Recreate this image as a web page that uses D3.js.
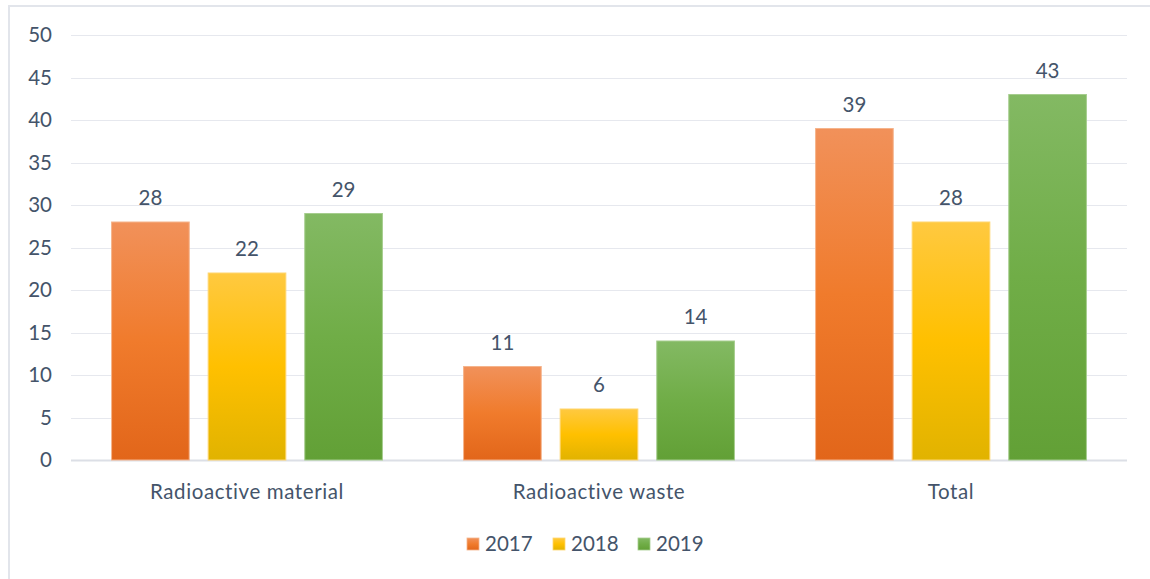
<!DOCTYPE html>
<html>
<head>
<meta charset="utf-8">
<script src="https://cdn.jsdelivr.net/npm/d3@7"></script>
<style>
  html, body { margin: 0; padding: 0; background: #fff; }
  svg text { font-family: Lato, "Open Sans", sans-serif; fill: #44546a; }
</style>
</head>
<body>
<div id="chart"></div>
<script>
// chart data
const categories = ["Radioactive material", "Radioactive waste", "Total"];
const years = ["2017", "2018", "2019"];
const values2017 = [28, 11, 39];
const values2018 = [22, 6, 28];
const values2019 = [29, 14, 43];
const yTicks = [0, 5, 10, 15, 20, 25, 30, 35, 40, 45, 50];

// gradient stops per series: top, middle, bottom
const seriesColors = [
  { top: "#f1915a", mid: "#f07b2c", bot: "#e2661a", edge: "#f5b48c" },
  { top: "#ffc940", mid: "#ffc000", bot: "#e1b300", edge: "#ffd66e" },
  { top: "#83b963", mid: "#70ad47", bot: "#62a036", edge: "#a6cd8e" }
];

const W = 1150, H = 579;
const margin = { top: 35, left: 71, right: 23, bottom: 119 };
const fontSize = 20.5;

const svg = d3.select("#chart").append("svg")
  .attr("width", W).attr("height", H);

// outer frame (only top and left visible in the capture)
svg.append("path")
  .attr("d", "M9," + H + " V6 H" + W)
  .attr("fill", "none")
  .attr("stroke", "#e2e5eb")
  .attr("stroke-width", 2);

const defs = svg.append("defs");
seriesColors.forEach((c, i) => {
  let g = defs.append("linearGradient")
    .attr("id", "grad" + i)
    .attr("x1", 0).attr("y1", 0).attr("x2", 0).attr("y2", 1);
  g.append("stop").attr("offset", "0%").attr("stop-color", c.top);
  g.append("stop").attr("offset", "50%").attr("stop-color", c.mid);
  g.append("stop").attr("offset", "100%").attr("stop-color", c.bot);
});

const x0 = d3.scaleBand()
  .domain(categories)
  .range([margin.left, W - margin.right])
  .paddingInner(0)
  .paddingOuter(0);

const x1 = d3.scaleBand()
  .domain(years)
  .range([0, x0.bandwidth()])
  .paddingInner(0.196)
  .paddingOuter(0.42);

const y = d3.scaleLinear()
  .domain([0, 50])
  .range([H - margin.bottom, margin.top]);

// gridlines
svg.append("g").selectAll("line")
  .data(yTicks).enter()
  .append("line")
    .attr("x1", margin.left).attr("x2", W - margin.right)
    .attr("y1", d => Math.round(y(d)) + 0.5).attr("y2", d => Math.round(y(d)) + 0.5)
    .attr("stroke", d => d === 0 ? "#dcdfe6" : "#e6e8ee")
    .attr("stroke-width", d => d === 0 ? 2 : 1.2);

// y labels
svg.append("g").selectAll("text")
  .data(yTicks).enter()
  .append("text")
    .attr("x", 52)
    .attr("y", d => y(d))
    .attr("dy", "0.36em")
    .attr("text-anchor", "end")
    .attr("font-size", fontSize)
    .text(d => d);

const series = [values2017, values2018, values2019];
const barData = [];
categories.forEach((cat, ci) => {
  years.forEach((yr, si) => {
    barData.push({ cat: cat, year: yr, si: si, value: series[si][ci] });
  });
});

const bars = svg.append("g").selectAll("g")
  .data(barData).enter()
  .append("g");

bars.append("rect")
  .attr("x", d => x0(d.cat) + x1(d.year))
  .attr("y", d => y(d.value))
  .attr("width", x1.bandwidth())
  .attr("height", d => y(0) - y(d.value))
  .attr("fill", d => "url(#grad" + d.si + ")")
  .attr("stroke", d => seriesColors[d.si].edge)
  .attr("stroke-width", 1);

bars.append("text")
  .attr("x", d => x0(d.cat) + x1(d.year) + x1.bandwidth() / 2)
  .attr("y", d => y(d.value) - 17)
  .attr("text-anchor", "middle")
  .attr("font-size", fontSize)
  .text(d => d.value);

// category labels
svg.append("g").selectAll("text")
  .data(categories).enter()
  .append("text")
    .attr("x", d => x0(d) + x0.bandwidth() / 2)
    .attr("y", 499)
    .attr("text-anchor", "middle")
    .attr("font-size", fontSize)
    .attr("letter-spacing", 0.6)
    .text(d => d);

// legend
const legendX = [467, 553, 638];
const legend = svg.append("g").selectAll("g")
  .data(years).enter()
  .append("g")
    .attr("transform", (d, i) => "translate(" + legendX[i] + ",538)");

legend.append("rect")
  .attr("width", 12).attr("height", 12)
  .attr("fill", (d, i) => "url(#grad" + i + ")")
  .attr("stroke", (d, i) => seriesColors[i].edge)
  .attr("stroke-width", 0.8);

legend.append("text")
  .attr("x", 18).attr("y", 6)
  .attr("dy", "0.36em")
  .attr("font-size", fontSize)
  .text(d => d);
</script>
</body>
</html>
